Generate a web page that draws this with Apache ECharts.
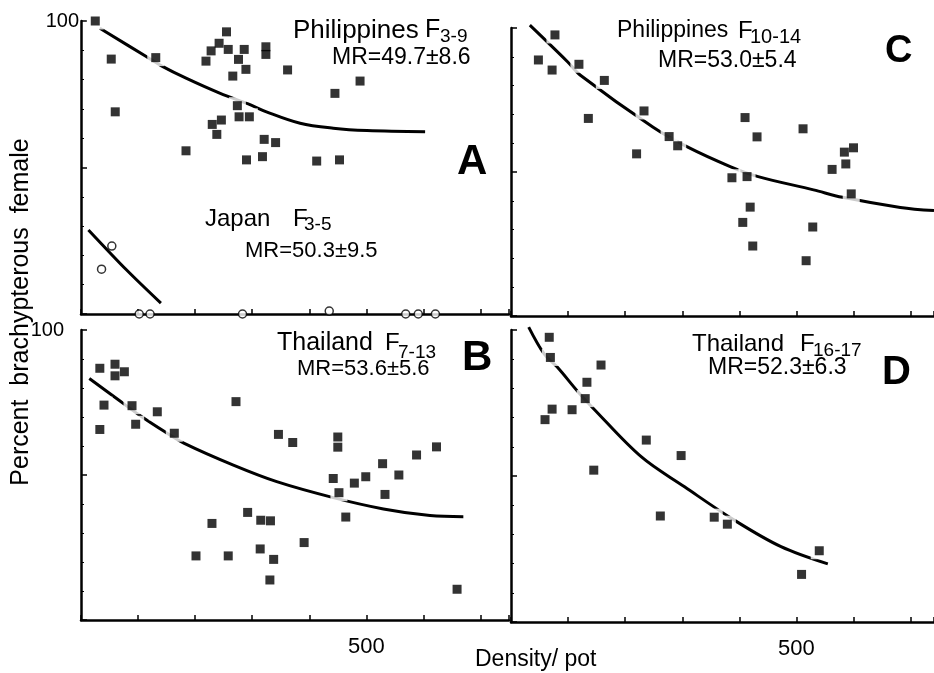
<!DOCTYPE html>
<html>
<head>
<meta charset="utf-8">
<script src="https://cdn.jsdelivr.net/npm/echarts@6/dist/echarts.min.js"></script>
<style>
html, body { margin: 0; padding: 0; background: #fff; }
#main { width: 934px; height: 673px; }
</style>
</head>
<body>
<div id="main"></div>
<script>
// tick labels shown on the axes
var xTickLabels = [500];
var yTickLabels = [100];

// A : Philippines F3-9 (density, % brachypterous)
var philA = [[25,100],[53,87],[60,69],[131,87.5],[184,55.7],[219,86.3],[228,89.8],[242,92.4],[255,96.3],[258,90.3],
	[286,90.3],[276,86.9],[289,83.5],[266,81.2],[324,91.2],[324,88.6],[362,83.3],[489,79.5],[445,75.3],[274,71.1],
	[277,67.3],[295,67.3],[246,66.2],[230,64.7],[238,61.3],[321,59.6],[341,58.5],[290,52.6],[318,53.7],[413,52.2],[453,52.6]];
var philACurve = [[33,97.5],[115,87.8],[141,84.7],[185,80.4],[244,75.3],[293,71.7],[325,69],[384,65.1],[442,63.4],[501,62.6],[603,62.2]];

// A : Japan F3-5
var japanA = [[36,15.3],[54,23.2],[102,0],[121,0],[283,0],[435,1],[569,0],[591,0],[621,0]];
var japanACurve = [[13,28.7],[80,15],[140,3.7]];

// C : Philippines F10-14
var philC = [[77,97.6],[48,88.9],[72,85.4],[119,87.4],[163.5,81.8],[135.5,68.6],[233,71.2],[220,56.3],[277,62.3],[292,59.1],
	[387,48],[413.5,48.4],[410,68.9],[431,62.2],[419,37.8],[406,32.5],[423.5,24.3],[511.6,65],[528.6,30.9],[517,19.2],
	[562.5,50.9],[584,56.9],[586.5,52.8],[600,58.4],[596,42.4]];
var philCCurve = [[33,101],[99,88.3],[121,83.7],[249,65.5],[308,58.8],[385,51.8],[433,48.4],[530,43.8],[581,41.2],[682,37.7],[741,36.6]];

// B : Thailand F7-13
var thaiB = [[33,86.8],[59.6,88.2],[59.6,84.2],[76,85.6],[40.3,74.1],[33,65.7],[89.4,73.9],[95.8,67.5],[133.7,71.8],[163.5,64.4],
	[271.6,75.3],[346,64],[371,61.2],[450,63.1],[450,59.6],[442,48.8],[452,43.9],[479,47.2],[499,49.4],[528.5,53.9],
	[532.7,43.3],[557,50],[588,56.9],[623,59.7],[464,35.5],[659,10.6],[292,37.1],[229.5,33.3],[315,34.4],[332,34.2],
	[201.5,22.1],[258,22.1],[314,24.5],[337.6,20.9],[331,13.8],[391,26.7]];
var thaiBCurve = [[14.6,83.3],[63.6,76.2],[102,70.7],[147,64.9],[181,60.9],[267,53.4],[343,47.7],[442,42.2],[530,38.3],[611.5,36],[670,35.6]];

// D : Thailand F16-17
var thaiD = [[67,97.5],[69,90.6],[157.7,88],[133,82.1],[130,76.5],[72,72.9],[107,72.7],[59.6,69.3],[145,52],[237,62.3],
	[298,57],[261.6,36.3],[356,35.9],[379,33.5],[540,24.4],[509,16.3]];
var thaiDCurve = [[31,101],[58.4,91.7],[80.6,87.4],[118,78.7],[143,73.4],[228,56.6],[304,46.3],[391,34.9],[473,25.8],[555,19.9]];

var font = "'Liberation Sans', Arial, sans-serif";

function makeX(idx, max, showLabel) {
	return {
		type: 'value', gridIndex: idx, min: 0, max: max, interval: 100,
		axisLine: { show: true, onZero: false, lineStyle: { color: '#000', width: 2.5 } },
		axisTick: { show: true, inside: true, length: 5, lineStyle: { color: '#000', width: 1.5 } },
		axisLabel: {
			show: showLabel, margin: 16, color: '#000', fontSize: 22, fontFamily: font,
			showMinLabel: true, showMaxLabel: true,
			formatter: function(v) { return xTickLabels.indexOf(v) >= 0 ? String(v) : ''; }
		},
		splitLine: { show: false }
	};
}

function makeY(idx, labelMargin) {
	return {
		type: 'value', gridIndex: idx, min: 0, max: 100, interval: 50,
		axisLine: { show: true, onZero: false, lineStyle: { color: '#000', width: 2.5 } },
		axisTick: { show: true, inside: true, length: 6, lineStyle: { color: '#000', width: 1.5 } },
		minorTick: { show: true, splitNumber: 5, length: 3, lineStyle: { color: '#000', width: 1 } },
		axisLabel: {
			show: labelMargin != null, margin: labelMargin || 0, color: '#000', fontSize: 20, fontFamily: font,
			showMaxLabel: true,
			formatter: function(v) { return yTickLabels.indexOf(v) >= 0 ? String(v) : ''; }
		},
		splitLine: { show: false }, minorSplitLine: { show: false }
	};
}

// curve + white halo (gaps in curve) + black squares
function panelSeries(idx, pts, curve) {
	return [{
		type: 'line', xAxisIndex: idx, yAxisIndex: idx, data: curve, smooth: 0.35, symbol: 'none',
		clip: false, lineStyle: { color: '#000', width: 3 }, z: 2, silent: true
	}, {
		type: 'scatter', xAxisIndex: idx, yAxisIndex: idx, data: pts, symbol: 'rect', symbolSize: 17,
		clip: false, itemStyle: { color: '#fff' }, z: 3, silent: true
	}, {
		type: 'scatter', xAxisIndex: idx, yAxisIndex: idx, data: pts, symbol: 'rect', symbolSize: 9,
		clip: false, itemStyle: { color: '#000' }, z: 4, silent: true
	}];
}

function txt(x, y, s, size, bold, rot) {
	return {
		type: 'text', x: x, y: y, rotation: rot || 0, silent: true,
		style: {
			text: s, fill: '#000', font: (bold ? 'bold ' : '') + size + 'px ' + font,
			align: rot ? 'center' : 'left', textAlign: rot ? 'center' : 'left',
			verticalAlign: 'middle', textVerticalAlign: 'middle'
		}
	};
}

var series = [];
series = series.concat(panelSeries(0, philA, philACurve));
series.push({
	type: 'line', xAxisIndex: 0, yAxisIndex: 0, data: japanACurve, smooth: 0.3, symbol: 'none',
	clip: false, lineStyle: { color: '#000', width: 3 }, z: 2, silent: true
});
series.push({
	type: 'scatter', xAxisIndex: 0, yAxisIndex: 0, data: japanA, symbol: 'circle', symbolSize: 8,
	clip: false, itemStyle: { color: '#fff', borderColor: '#000', borderWidth: 1.5 }, z: 5, silent: true
});
series = series.concat(panelSeries(1, philC, philCCurve));
series = series.concat(panelSeries(2, thaiB, thaiBCurve));
series = series.concat(panelSeries(3, thaiD, thaiDCurve));

var option = {
	backgroundColor: '#fff',
	animation: false,
	grid: [
		{ left: 81, top: 21, width: 428, height: 293, containLabel: false, outerBoundsMode: 'none' }, // A
		{ left: 511, top: 28, width: 423, height: 288, containLabel: false, outerBoundsMode: 'none' }, // C
		{ left: 81, top: 330, width: 428, height: 290, containLabel: false, outerBoundsMode: 'none' }, // B
		{ left: 511, top: 330, width: 423, height: 292, containLabel: false, outerBoundsMode: 'none' } // D
	],
	xAxis: [makeX(0, 750, false), makeX(1, 741, false), makeX(2, 750, true), makeX(3, 741, true)],
	yAxis: [makeY(0, 2), makeY(1, null), makeY(2, 17), makeY(3, null)],
	series: series,
	graphic: [
		// A
		txt(293, 30.5, 'Philippines', 26), txt(425, 30.5, 'F', 25), txt(440, 37, '3-9', 19),
		txt(332, 57.5, 'MR=49.7\u00b18.6', 23),
		txt(205, 219, 'Japan', 24), txt(293, 219, 'F', 24), txt(304, 225, '3-5', 19),
		txt(245, 250.5, 'MR=50.3\u00b19.5', 22),
		txt(457, 162, 'A', 42, true),
		// C
		txt(617, 31, 'Philippines', 23), txt(738, 31, 'F', 24), txt(750, 37, '10-14', 20),
		txt(658, 61, 'MR=53.0\u00b15.4', 23),
		txt(885, 52, 'C', 38, true),
		// B
		txt(277, 343.5, 'Thailand', 25), txt(385, 343.5, 'F', 24), txt(398, 352.5, '7-13', 19),
		txt(297, 369, 'MR=53.6\u00b15.6', 22),
		txt(462, 358, 'B', 42, true),
		// D
		txt(692, 344, 'Thailand', 24), txt(800, 344, 'F', 24), txt(813, 351, '16-17', 19),
		txt(708, 368, 'MR=52.3\u00b16.3', 23),
		txt(882, 373, 'D', 40, true),
		// axis names
		txt(475, 660, 'Density/ pot', 23),
		txt(21, 312, 'Percent  brachypterous  female', 25, false, Math.PI / 2)
	]
};

var myChart = echarts.init(document.getElementById('main'));
myChart.setOption(option);
</script>
</body>
</html>
